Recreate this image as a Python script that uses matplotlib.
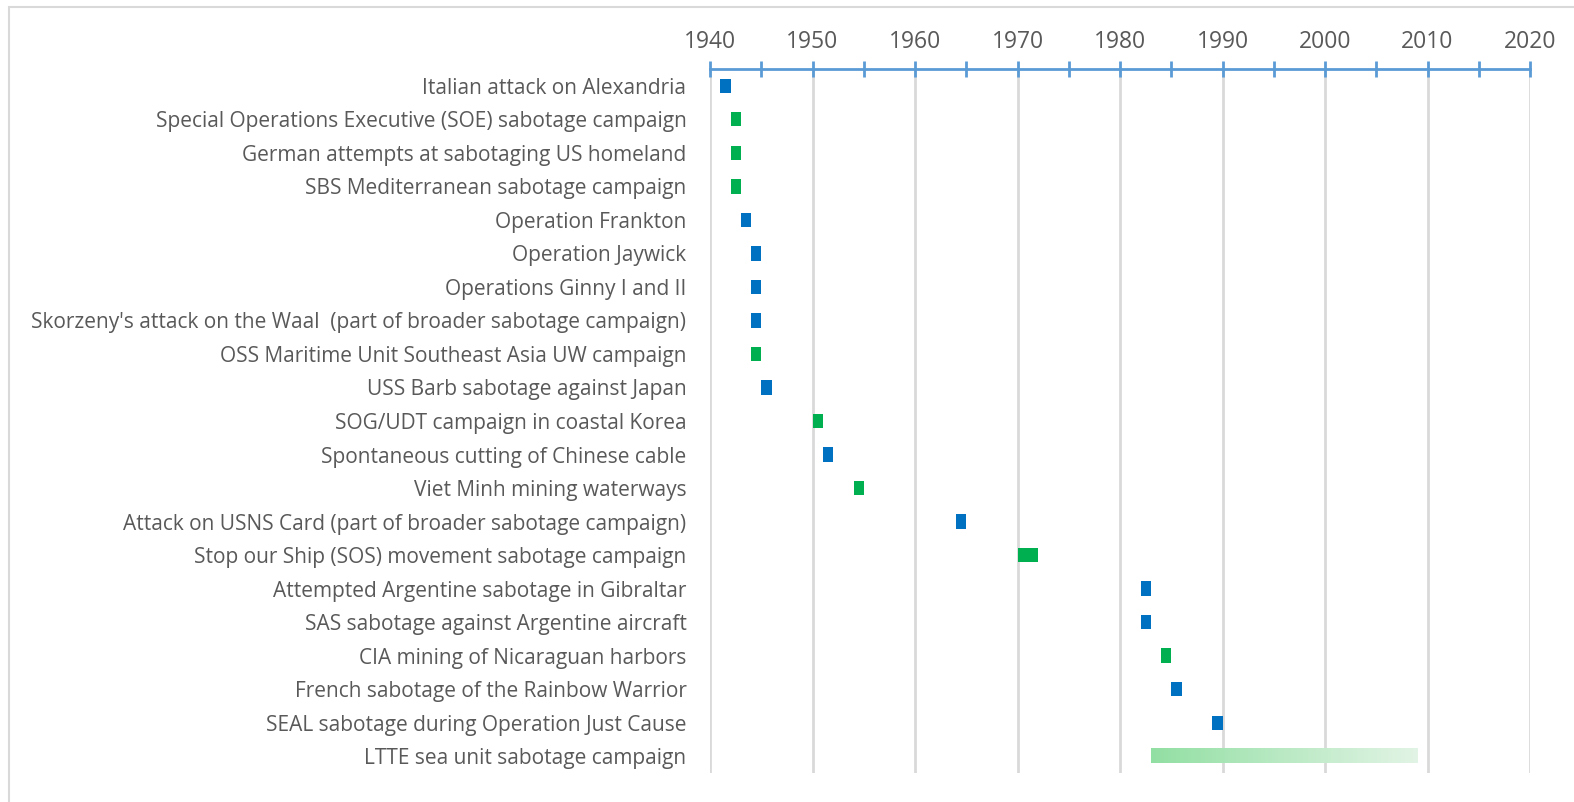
import numpy as np
import matplotlib
matplotlib.use("Agg")
from matplotlib import pyplot as plt
from matplotlib.patches import Rectangle
from matplotlib.colors import LinearSegmentedColormap

events = [
    "Italian attack on Alexandria",
    "Special Operations Executive (SOE) sabotage campaign",
    "German attempts at sabotaging US homeland",
    "SBS Mediterranean sabotage campaign",
    "Operation Frankton",
    "Operation Jaywick",
    "Operations Ginny I and II",
    "Skorzeny's attack on the Waal  (part of broader sabotage campaign)",
    "OSS Maritime Unit Southeast Asia UW campaign",
    "USS Barb sabotage against Japan",
    "SOG/UDT campaign in coastal Korea",
    "Spontaneous cutting of Chinese cable",
    "Viet Minh mining waterways",
    "Attack on USNS Card (part of broader sabotage campaign)",
    "Stop our Ship (SOS) movement sabotage campaign",
    "Attempted Argentine sabotage in Gibraltar",
    "SAS sabotage against Argentine aircraft",
    "CIA mining of Nicaraguan harbors",
    "French sabotage of the Rainbow Warrior",
    "SEAL sabotage during Operation Just Cause",
    "LTTE sea unit sabotage campaign",
]
start_year = [1941, 1942, 1942, 1942, 1943, 1944, 1944, 1944, 1944, 1945, 1950,
              1951, 1954, 1964, 1970, 1982, 1982, 1984, 1985, 1989, 1983]
duration = [1, 1, 1, 1, 1, 1, 1, 1, 1, 1, 1, 1, 1, 1, 2, 1, 1, 1, 1, 1, 26]
# 'op' = single operation (blue), 'camp' = campaign (green), 'ongoing' = faded green
kind = ['op', 'camp', 'camp', 'camp', 'op', 'op', 'op', 'op', 'camp', 'op', 'camp',
        'op', 'camp', 'op', 'camp', 'op', 'op', 'camp', 'op', 'op', 'ongoing']

colors = {'op': '#0070C0', 'camp': '#00B050'}
text_color = '#595959'
grid_color = '#D9D9D9'
axis_color = '#5B9BD5'

W, H = 1574, 802
fig = plt.figure(figsize=(W / 100, H / 100), dpi=100)
ax = fig.add_axes([710 / W, 1 - 773 / H, 820 / W, (773 - 69) / H])

y = np.arange(len(events))
bar_h = 0.43
for i in range(len(events)):
    if kind[i] == 'ongoing':
        grad = LinearSegmentedColormap.from_list('fade', ['#92DFA3', '#E2F4E5'])
        ax.imshow(np.linspace(0, 1, 256).reshape(1, -1), cmap=grad, aspect='auto',
                  extent=[start_year[i], start_year[i] + duration[i], y[i] + bar_h / 2, y[i] - bar_h / 2],
                  zorder=3, interpolation='bilinear')
    else:
        ax.barh(y[i], duration[i], left=start_year[i], height=bar_h, color=colors[kind[i]], zorder=3)

ax.set_xlim(1940, 2020)
ax.set_ylim(len(events) - 0.5, -0.5)
ax.set_yticks(y)
ax.set_yticklabels(events)
ax.xaxis.tick_top()
ax.set_xticks(np.arange(1940, 2021, 10))
ax.set_xticks(np.arange(1945, 2020, 10), minor=True)

for s in ['bottom', 'left', 'right']:
    ax.spines[s].set_visible(False)
ax.spines['top'].set_color(axis_color)
ax.spines['top'].set_linewidth(2)

ax.tick_params(axis='x', which='both', direction='inout', length=12, width=2,
               color=axis_color, labelcolor=text_color, labelsize=16.5, pad=5)
ax.tick_params(axis='y', length=0, pad=17, labelcolor=text_color, labelsize=15)
for lab in ax.get_xticklabels() + ax.get_yticklabels():
    lab.set_family('Open Sans')

ax.grid(axis='x', which='major', color=grid_color, linewidth=2, zorder=0)
ax.set_axisbelow(True)

# chart area frame (only the left and top edges fall inside the picture)
fig.patches.append(Rectangle((9 / W, -0.1), 1.2, 1.1 - 7 / H, transform=fig.transFigure,
                             fill=False, edgecolor=grid_color, linewidth=1.5))

fig.savefig('out.png', dpi=100)
